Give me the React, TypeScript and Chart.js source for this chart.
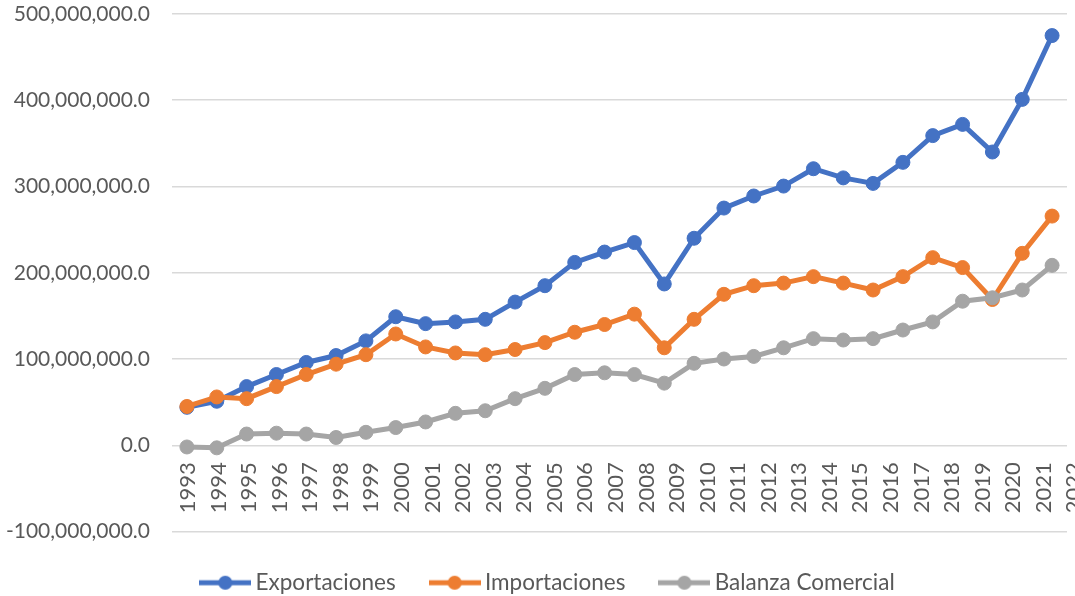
import React, { useEffect, useRef } from 'react';
import { Chart, registerables } from 'chart.js';

Chart.register(...registerables);

const years = [
  '1993', '1994', '1995', '1996', '1997', '1998', '1999', '2000', '2001', '2002',
  '2003', '2004', '2005', '2006', '2007', '2008', '2009', '2010', '2011', '2012',
  '2013', '2014', '2015', '2016', '2017', '2018', '2019', '2020', '2021', '2022',
];

const exportaciones = [
  44000000, 51000000, 68000000, 82000000, 96000000, 104000000, 121000000, 149000000, 141000000, 143000000,
  146000000, 166000000, 185000000, 212000000, 224000000, 235000000, 187000000, 240000000, 275000000, 289000000,
  300500000, 320600000, 310000000, 303600000, 328000000, 359000000, 372000000, 340000000, 401000000, 475000000,
];

const importaciones = [
  45000000, 56000000, 54000000, 68000000, 82000000, 94000000, 105000000, 129000000, 114000000, 107000000,
  105000000, 111000000, 119000000, 131000000, 140000000, 152000000, 113000000, 146000000, 175000000, 185000000,
  188000000, 195500000, 188000000, 180000000, 195500000, 217500000, 206000000, 169000000, 222500000, 265700000,
];

const balanzaComercial = [
  -2000000, -3000000, 13000000, 14000000, 13000000, 9000000, 15000000, 20500000, 27000000, 37000000,
  40000000, 54000000, 66000000, 82000000, 84000000, 82000000, 72000000, 95000000, 100000000, 103000000,
  113000000, 123600000, 122000000, 123600000, 133600000, 143000000, 167000000, 171000000, 180000000, 208600000,
];

const yTickMin = -100000000;
const yTickMax = 500000000;
const yTickStep = 100000000;

const seriesNames = ['Exportaciones', 'Importaciones', 'Balanza Comercial'];
const seriesColors = ['#4472C4', '#ED7D31', '#A5A5A5'];

const TEXT = '#595959';
const FONT = 'Lato, "Open Sans", sans-serif';

function makeMarker(color: string): HTMLCanvasElement {
  const c = document.createElement('canvas');
  c.width = 52;
  c.height = 16;
  const g = c.getContext('2d')!;
  g.strokeStyle = color;
  g.lineWidth = 5;
  g.beginPath();
  g.moveTo(0, 8);
  g.lineTo(52, 8);
  g.stroke();
  g.fillStyle = color;
  g.beginPath();
  g.arc(26, 8, 7, 0, Math.PI * 2);
  g.fill();
  return c;
}

const legendShift = {
  id: 'legendShift',
  afterLayout(chart: any) {
    if (chart.legend) {
      chart.legend.left += 15;
      chart.legend.right += 15;
    }
  },
};

export default function App() {
  const ref = useRef<HTMLCanvasElement>(null);

  useEffect(() => {
    const canvas = ref.current;
    if (!canvas) return;
    const markers = seriesColors.map(makeMarker);
    const values = [exportaciones, importaciones, balanzaComercial];
    const orders = [2, 1, 0];

    const datasets = seriesNames.map((name, i) => ({
      label: name,
      data: values[i],
      borderColor: seriesColors[i],
      backgroundColor: seriesColors[i],
      pointBackgroundColor: seriesColors[i],
      pointBorderColor: seriesColors[i],
      borderWidth: 5,
      pointRadius: 7,
      pointHoverRadius: 7,
      pointBorderWidth: 1,
      tension: 0,
      order: orders[i],
    }));

    const chart = new Chart(canvas, {
      type: 'line',
      data: { labels: years, datasets },
      plugins: [legendShift],
      options: {
        animation: false,
        responsive: false,
        layout: { padding: { top: 14, right: 4, bottom: -8, left: 0 } },
        plugins: {
          tooltip: { enabled: false },
          legend: {
            position: 'bottom',
            labels: {
              usePointStyle: true,
              pointStyleWidth: 38,
              padding: 40,
              color: TEXT,
              font: { family: FONT, size: 22.5 },
              sort: (a: any, b: any) => a.datasetIndex - b.datasetIndex,
              generateLabels: (ch: any) =>
                (Chart.defaults.plugins.legend.labels as any)
                  .generateLabels(ch)
                  .map((l: any) => ({ ...l, pointStyle: markers[l.datasetIndex] })),
            },
          },
        },
        scales: {
          x: { type: 'category', offset: true, display: false },
          xl: {
            type: 'linear',
            position: { y: 0 },
            min: 1992.479,
            max: 2021.76,
            grid: { display: false, drawTicks: false },
            border: { display: false },
            afterBuildTicks: (s: any) => {
              s.ticks = years.map((y) => ({ value: Number(y) }));
            },
            afterFit: (s: any) => {
              s.paddingLeft = 0;
              s.paddingRight = 0;
              s.paddingTop = 0;
              s.paddingBottom = 0;
            },
            ticks: {
              autoSkip: false,
              minRotation: 90,
              maxRotation: 90,
              padding: 17,
              color: TEXT,
              font: { family: FONT, size: 22 },
              callback: (v: any) => String(v),
            },
          },
          y: {
            min: yTickMin,
            max: yTickMax,
            border: { display: false },
            grid: { color: '#d9d9d9', lineWidth: 1.5, drawTicks: false },
            afterFit: (s: any) => {
              s.width = 172;
              s.paddingTop = 0;
              s.paddingBottom = 0;
            },
            ticks: {
              stepSize: yTickStep,
              padding: 22,
              color: TEXT,
              font: { family: FONT, size: 21 },
              callback: (v: any) =>
                Number(v).toLocaleString('en-US', { minimumFractionDigits: 1, maximumFractionDigits: 1 }),
            },
          },
        },
      } as any,
    });
    return () => chart.destroy();
  }, []);

  return (
    <div style={{ position: 'absolute', left: 0, top: 0, width: 1075, height: 596, background: '#fff' }}>
      <canvas ref={ref} width={1075} height={596} style={{ display: 'block' }} />
    </div>
  );
}
